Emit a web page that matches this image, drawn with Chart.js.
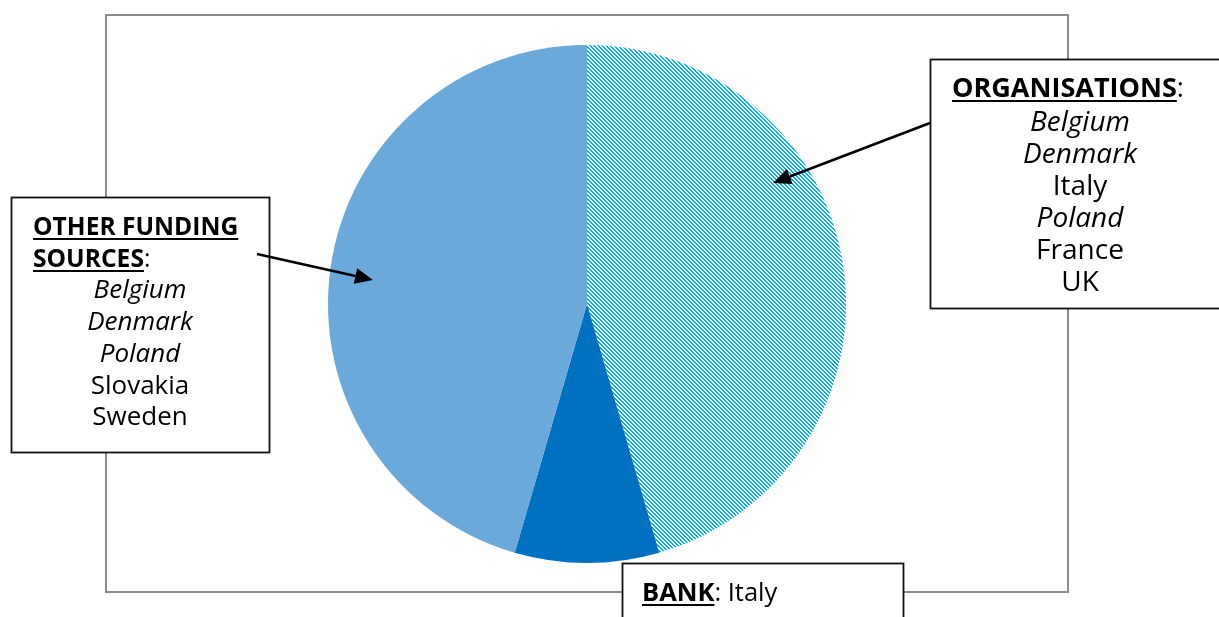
<!DOCTYPE html>
<html>
<head>
<meta charset="utf-8">
<script src="https://cdn.jsdelivr.net/npm/chart.js@4.4.1/dist/chart.umd.min.js"></script>
<style>
  html, body { margin: 0; padding: 0; background: #ffffff; }
  #wrap { position: relative; width: 1219px; height: 617px; overflow: hidden; }
  #c { position: absolute; left: 0; top: 0; }
  .txt { position: absolute; font-family: "Open Sans", Lato, sans-serif; font-size: 25.5px; color: #000; white-space: nowrap; pointer-events: none; }
  .hd b, b.u { font-weight: 700; text-decoration: underline; text-decoration-thickness: 2px; text-underline-offset: 3px; }
  .c { text-align: center; }
  i { font-style: italic; }
</style>
</head>
<body>
<div id="wrap">
  <canvas id="c" width="1219" height="617"></canvas>
  <div class="txt hd" id="orgHead" style="left:952px; top:71px; line-height:32px; font-size:27px;"></div>
  <div class="txt c" id="orgList" style="left:980px; width:200px; top:104px; line-height:32px; font-size:28px;"></div>
  <div class="txt hd" id="othHead" style="left:33px; top:210px; line-height:31.7px; font-size:24.6px;"></div>
  <div class="txt c" id="othList" style="left:40px; width:200px; top:273.4px; line-height:31.7px; font-size:26px;"></div>
  <div class="txt" id="bankTxt" style="left:642px; top:575px; line-height:32px;"></div>
</div>
<script>
// ---- data ----
const categories = ["Organisations", "Bank", "Other funding sources"];
const shares = [45.5, 9.0, 45.5];          // percent of the pie
const orgCountries = ["Belgium", "Denmark", "Italy", "Poland", "France", "UK"];
const orgItalic = [true, true, false, true, false, false];
const otherCountries = ["Belgium", "Denmark", "Poland", "Slovakia", "Sweden"];
const otherItalic = [true, true, true, false, false];
const bankCountries = ["Italy"];

// ---- text boxes ----
function listHTML(names, italics) {
  return names.map((n, k) => italics[k] ? "<i>" + n + "</i>" : n).join("<br>");
}
document.getElementById("orgHead").innerHTML = "<b>ORGANISATIONS</b>:";
document.getElementById("orgList").innerHTML = listHTML(orgCountries, orgItalic);
document.getElementById("othHead").innerHTML = "<b>OTHER FUNDING</b><br><b>SOURCES</b>:";
document.getElementById("othList").innerHTML = listHTML(otherCountries, otherItalic);
document.getElementById("bankTxt").innerHTML = "<b class='u'>BANK</b>: " + bankCountries.join(", ");

// ---- hatch pattern ----
function hatch(color) {
  const p = document.createElement("canvas");
  p.width = 4; p.height = 4;
  const g = p.getContext("2d");
  g.fillStyle = "#ffffff"; g.fillRect(0, 0, 4, 4);
  g.fillStyle = color;
  for (let y = 0; y < 4; y++) {
    for (let x = 0; x < 4; x++) {
      const d = ((x - y) % 4 + 4) % 4;
      if (d === 0 || d === 1) g.fillRect(x, y, 1, 1);
    }
  }
  return g.createPattern(p, "repeat");
}

const ctx = document.getElementById("c").getContext("2d");

function arrow(g, x1, y1, x2, y2) {
  const ang = Math.atan2(y2 - y1, x2 - x1);
  const L = 18, W = 8;
  const bx = x2 - L * Math.cos(ang), by = y2 - L * Math.sin(ang);
  g.strokeStyle = "#000"; g.lineWidth = 2.6;
  g.beginPath(); g.moveTo(x1, y1); g.lineTo(bx, by); g.stroke();
  g.fillStyle = "#000";
  g.beginPath();
  g.moveTo(x2, y2);
  g.lineTo(bx + W * Math.sin(ang), by - W * Math.cos(ang));
  g.lineTo(bx - W * Math.sin(ang), by + W * Math.cos(ang));
  g.closePath(); g.fill();
}

const decor = {
  id: "decor",
  beforeDraw(chart) {
    const g = chart.ctx;
    g.save();
    g.fillStyle = "#fff"; g.fillRect(0, 0, chart.width, chart.height);
    g.strokeStyle = "#8c8c8c"; g.lineWidth = 2;
    g.strokeRect(106, 15, 962, 577);
    g.restore();
  },
  afterDraw(chart) {
    const g = chart.ctx;
    g.save();
    const boxes = [[930.5, 59.5, 300, 249], [11.5, 197.5, 258, 255], [622.5, 563.5, 281, 80]];
    boxes.forEach(b => {
      g.fillStyle = "#fff"; g.fillRect(b[0], b[1], b[2], b[3]);
      g.strokeStyle = "#111"; g.lineWidth = 1.8; g.strokeRect(b[0], b[1], b[2], b[3]);
    });
    arrow(g, 930, 123, 773, 183);
    arrow(g, 257, 254, 373, 280);
    g.restore();
  }
};

new Chart(ctx, {
  type: "pie",
  data: {
    labels: categories,
    datasets: [{
      data: shares,
      backgroundColor: [hatch("#00B0F0"), "#0070C0", "#6AA9D9"],
      borderWidth: 0
    }]
  },
  options: {
    responsive: false,
    animation: false,
    devicePixelRatio: 1,
    layout: { padding: { left: 328, right: 373, top: 45, bottom: 54 } },
    plugins: { legend: { display: false }, tooltip: { enabled: false } }
  },
  plugins: [decor]
});
</script>
</body>
</html>
